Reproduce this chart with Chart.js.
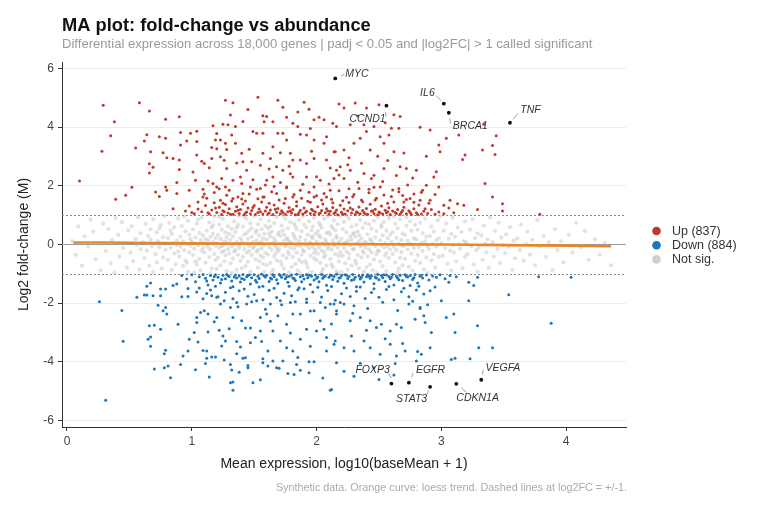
<!DOCTYPE html>
<html><head><meta charset="utf-8">
<script src="https://cdn.jsdelivr.net/npm/chart.js@4.4.1/dist/chart.umd.min.js"></script>
<style>html,body{margin:0;padding:0;background:#fff}#wrap{width:760px;height:506px;position:relative}</style>
</head><body><div id="wrap"><canvas id="c" width="760" height="506"></canvas></div>
<script>
const xTicks=[0,1,2,3,4];
const yTicks=[-6,-4,-2,0,2,4,6];
const legendLabels=['Up (837)','Down (884)','Not sig.'];
const titleText='MA plot: fold-change vs abundance';
const subtitleText='Differential expression across 18,000 genes | padj < 0.05 and |log2FC| > 1 called significant';
const captionText='Synthetic data. Orange curve: loess trend. Dashed lines at log2FC = +/-1.';
const xTitle='Mean expression, log10(baseMean + 1)';
const yTitle='Log2 fold-change (M)';

const upXY=[0.10,2.16,0.29,4.75,0.58,4.83,0.38,4.18,0.35,3.71,0.28,3.18,0.39,1.54,0.47,1.68,0.52,1.95,0.66,4.55,0.55,3.29,0.64,3.74,0.62,3.53,0.67,3.16,0.66,2.75,0.66,2.44,0.69,2.63,0.71,1.79,0.74,1.64,0.79,4.27,0.74,3.67,0.79,3.62,0.77,3.13,0.80,2.96,0.79,1.96,0.80,1.85,0.90,4.35,0.91,3.82,0.91,3.39,0.85,2.93,0.90,2.88,0.90,2.56,0.88,2.11,0.88,1.74,0.85,1.22,
1.27,4.92,1.33,4.83,1.31,4.41,1.25,4.10,1.29,4.08,1.53,5.02,1.41,4.19,1.17,4.05,1.04,3.86,0.99,3.79,1.04,3.51,0.96,3.53,1.04,3.05,1.08,2.84,1.10,2.76,1.01,2.47,1.03,2.19,0.98,1.85,1.09,1.88,1.13,2.16,1.17,2.08,1.20,3.78,1.19,3.56,1.23,3.56,1.16,3.31,1.20,3.26,1.23,2.99,1.16,2.93,1.28,3.24,1.27,3.45,1.35,3.45,1.32,3.73,1.36,2.78,1.28,2.59,1.24,2.25,1.20,1.96,1.27,1.96,1.33,2.19,1.39,2.30,1.41,2.82,1.40,3.11,1.44,2.53,1.40,2.08,1.48,2.82,1.49,3.85,1.52,3.79,1.57,3.79,1.57,4.39,1.60,4.36,1.58,4.18,1.69,4.92,1.73,4.68,1.76,4.34,1.65,4.18,1.90,4.85,1.94,4.61,2.02,4.34,2.06,4.25,1.98,4.25,1.81,4.13,1.85,4.02,1.87,3.76,1.92,3.73,1.69,3.79,1.73,3.79,1.76,3.56,1.65,3.33,1.71,3.13,1.79,3.11,1.57,3.11,1.63,2.93,1.55,2.70,1.68,2.65,1.73,2.53,1.81,2.88,1.87,2.88,1.92,2.76,1.98,2.93,2.08,2.88,2.06,3.45,2.08,3.67,1.98,3.56,2.14,3.16,2.16,2.53,2.03,2.19,1.92,2.30,1.81,2.30,1.76,1.96,1.65,2.30,1.60,2.19,1.55,1.91,1.47,1.96,1.87,1.85,1.98,1.96,2.11,1.85,1.68,1.74,1.57,1.62,1.41,1.74,1.33,1.57,1.23,1.51,1.09,1.62,1.81,1.62,1.98,1.62,2.08,1.62,
2.18,4.79,2.22,4.65,2.31,4.82,2.40,4.65,2.50,4.76,2.13,4.13,2.16,4.02,2.27,4.08,2.38,4.08,2.40,3.85,2.46,4.02,2.62,4.42,2.67,4.36,2.60,3.96,2.66,3.96,2.51,3.67,2.35,3.62,2.30,3.45,2.22,3.22,2.15,3.16,2.43,3.22,2.54,3.45,2.58,3.73,2.62,3.16,2.83,4.00,2.91,3.90,2.98,3.39,2.99,3.16,3.04,3.62,3.14,3.73,2.88,3.01,3.17,2.90,3.19,3.05,3.33,3.22,3.34,4.10,3.44,3.71,3.41,3.37,3.43,3.07,2.96,2.48,2.94,2.30,2.80,2.53,2.72,2.59,2.67,2.65,2.54,2.59,2.46,2.36,2.38,2.42,2.27,2.53,2.19,2.65,2.14,2.25,2.22,2.25,2.44,2.25,2.34,1.91,2.51,1.96,2.66,1.91,2.88,2.02,2.98,1.96,3.35,2.08,3.41,1.62,3.49,1.39,3.49,1.14,3.29,1.19,3.18,1.34,3.13,1.39,3.07,1.51,3.02,1.34,2.91,1.51,2.83,1.51,2.75,1.57,2.70,1.45,3.79,1.03,
1.02,1.05,1.05,1.21,1.08,1.12,1.11,1.33,1.14,1.04,1.16,1.18,1.18,1.42,1.20,1.09,1.22,1.27,1.24,1.02,1.25,1.15,1.27,1.36,1.29,1.07,1.30,1.22,1.32,1.48,1.33,1.03,1.35,1.13,1.36,1.29,1.38,1.06,1.39,1.19,1.41,1.38,1.42,1.01,1.44,1.11,1.45,1.24,1.47,1.05,1.48,1.16,1.50,1.33,1.51,1.02,1.53,1.09,1.54,1.21,1.56,1.45,1.57,1.04,1.59,1.14,1.60,1.27,1.62,1.07,1.63,1.18,1.65,1.02,1.66,1.35,1.68,1.10,1.69,1.23,1.71,1.05,1.72,1.15,1.74,1.41,1.75,1.03,1.77,1.12,1.78,1.26,1.80,1.07,1.81,1.19,1.83,1.01,1.84,1.31,1.86,1.09,1.87,1.17,1.89,1.04,1.90,1.24,1.92,1.13,1.93,1.47,1.95,1.06,1.96,1.20,1.98,1.02,1.99,1.11,2.01,1.29,2.02,1.05,2.04,1.16,2.05,1.38,2.07,1.08,2.08,1.22,2.10,1.03,2.11,1.13,2.13,1.26,2.14,1.06,2.16,1.18,2.17,1.01,2.19,1.34,2.20,1.10,2.22,1.21,2.23,1.04,2.25,1.15,2.26,1.43,2.28,1.07,2.29,1.19,2.31,1.02,2.32,1.12,2.34,1.28,2.35,1.05,2.37,1.16,2.38,1.09,2.40,1.23,2.41,1.03,2.43,1.37,2.44,1.13,2.46,1.06,2.47,1.20,2.49,1.01,2.50,1.11,2.52,1.31,2.53,1.04,2.55,1.17,2.56,1.08,2.58,1.25,2.59,1.02,2.61,1.14,2.62,1.45,2.64,1.06,2.65,1.19,2.67,1.03,2.68,1.10,2.70,1.27,2.72,1.05,2.74,1.15,2.76,1.02,2.78,1.22,2.80,1.08,2.82,1.35,2.84,1.04,2.86,1.13,2.89,1.06,2.92,1.19,2.95,1.03,2.98,1.11,3.02,1.05,3.06,1.24,3.10,1.08,0.95,1.14,0.98,1.31,1.00,1.09,
1.13,1.08,1.19,1.24,1.26,1.12,1.31,1.03,1.37,1.17,1.43,1.07,1.49,1.26,1.55,1.12,1.61,1.04,1.67,1.20,1.73,1.09,1.79,1.14,1.85,1.02,1.91,1.09,1.97,1.16,2.03,1.07,2.09,1.14,2.15,1.10,2.21,1.03,2.27,1.24,2.33,1.08,2.39,1.04,2.45,1.15,2.51,1.07,2.57,1.12,2.63,1.09,2.69,1.16,2.75,1.09,2.81,1.02,2.87,1.22,1.40,1.55,1.58,1.62,1.70,1.52,1.88,1.58,2.00,1.66,2.12,1.54,2.24,1.61,2.36,1.52,2.48,1.58,2.60,1.64,2.72,1.53,1.28,1.68,1.46,1.72,1.64,1.80,1.82,1.70,1.94,1.78,2.06,1.74,2.18,1.83,2.30,1.70,2.42,1.76,2.54,1.69,2.66,1.80,2.78,1.72,1.10,1.72,1.22,1.90,1.52,1.88,1.76,1.93,2.26,1.90,2.46,1.95,2.85,1.85,
1.05,1.45,1.12,1.58,1.18,1.77,1.25,1.41,1.30,1.85,1.37,1.62,1.43,1.48,1.49,2.21,1.53,1.56,1.59,2.03,1.62,1.41,1.66,1.98,1.71,2.11,1.75,1.57,1.79,2.41,1.84,1.46,1.89,2.05,1.95,1.44,2.00,2.31,2.04,1.52,2.10,2.06,2.13,1.42,2.18,2.37,2.21,1.49,2.25,2.72,2.29,1.63,2.33,2.12,2.37,1.46,2.42,1.88,2.47,1.52,2.53,2.15,2.57,1.41,2.61,1.86,2.64,2.35,2.69,1.67,2.73,2.03,2.78,1.44,2.84,1.78,2.90,1.41,2.95,1.70,1.14,2.62,1.26,2.87,1.46,3.25,1.62,2.57,1.78,2.67,1.96,3.18,2.11,2.61,2.26,2.96,2.36,2.77,2.49,3.01,2.57,2.86,2.70,3.12,2.77,2.27,1.35,4.02,1.85,4.52,2.33,4.38,1.45,4.60,1.95,3.95,2.55,4.15];

const downXY=[0.26,-1.95,0.44,-2.25,0.45,-3.30,0.31,-5.31,0.56,-1.80,0.62,-1.72,0.64,-1.72,0.69,-1.75,0.75,-1.75,0.64,-1.42,0.67,-1.31,0.75,-1.52,0.79,-1.52,0.73,-2.07,0.79,-2.15,0.80,-2.37,0.77,-2.26,0.66,-2.77,0.70,-2.75,0.75,-2.89,0.65,-3.23,0.67,-3.15,0.67,-3.47,0.79,-3.60,0.78,-3.72,0.70,-4.24,0.78,-4.20,0.83,-4.54,0.81,-4.14,0.89,-2.72,0.85,-1.40,0.88,-1.35,0.92,-1.78,0.97,-1.77,0.91,-4.09,0.93,-3.80,0.97,-3.63,0.98,-3.23,1.02,-3.00,1.04,-2.66,1.04,-2.49,1.07,-2.32,1.10,-2.26,1.13,-2.37,1.13,-2.98,1.05,-3.32,1.09,-3.61,1.12,-3.63,1.12,-3.88,1.03,-4.27,1.14,-4.52,1.11,-4.06,1.19,-3.83,1.16,-3.83,1.24,-3.46,1.27,-3.29,1.25,-3.12,1.22,-2.92,1.20,-2.49,1.23,-2.03,1.20,-1.80,1.16,-1.75,1.26,-3.94,1.31,-4.09,1.32,-4.28,1.31,-4.71,1.33,-4.69,1.33,-4.97,1.36,-3.31,1.36,-3.72,1.39,-3.49,1.41,-3.88,1.43,-3.86,1.45,-4.12,1.45,-4.20,1.49,-4.71,1.55,-4.61,1.51,-3.17,1.47,-2.85,1.43,-2.85,1.40,-2.60,1.33,-2.49,1.31,-2.15,1.36,-1.98,1.44,-2.03,1.52,-1.92,1.55,-2.95,1.56,-3.31,1.57,-3.89,1.57,-4.03,1.61,-3.63,1.61,-4.14,1.65,-3.97,1.68,-4.20,1.70,-4.22,1.73,-3.97,1.77,-4.40,1.82,-4.43,1.84,-4.09,1.87,-4.29,1.94,-4.00,1.98,-4.00,1.94,-4.37,2.11,-4.97,2.08,-3.63,2.16,-4.03,1.65,-2.95,1.71,-3.29,1.76,-3.52,1.81,-3.63,1.87,-3.23,1.92,-2.89,2.00,-2.95,2.06,-2.89,2.08,-3.17,2.14,-3.40,2.03,-2.60,1.98,-2.26,1.87,-2.37,1.81,-2.37,1.76,-2.72,1.69,-2.43,1.60,-2.37,1.55,-2.49,1.63,-2.03,1.71,-1.92,1.79,-1.98,1.92,-1.98,2.03,-1.98,2.11,-2.03,2.16,-2.26,
2.14,-2.03,2.22,-2.03,2.30,-2.09,2.16,-2.37,2.27,-2.60,2.35,-2.49,2.43,-2.60,2.48,-2.83,2.52,-2.72,2.59,-2.95,2.64,-2.72,2.68,-2.83,2.15,-3.29,2.22,-3.52,2.30,-3.63,2.38,-3.29,2.43,-3.52,2.51,-3.74,2.59,-3.40,2.64,-3.80,2.71,-3.63,2.81,-3.65,2.84,-3.74,2.91,-3.52,2.92,-3.00,2.87,-2.66,2.86,-2.43,2.83,-2.15,2.74,-2.03,3.00,-1.92,3.04,-2.49,3.10,-2.37,3.11,-3.00,3.08,-3.92,3.11,-3.88,3.23,-3.89,3.29,-2.77,3.30,-3.52,3.41,-3.52,3.54,-1.71,3.88,-2.68,2.22,-4.32,2.30,-4.49,2.50,-4.60,2.46,-4.20,2.12,-4.94,2.63,-4.06,2.80,-3.97,3.26,-1.40,3.22,-1.29,3.29,-1.12,3.78,-1.10,3.06,-1.29,2.91,-1.58,2.86,-1.69,2.75,-1.40,4.04,-1.12,3.22,-1.92,2.83,-2.18,
0.92,-1.06,0.96,-1.18,1.00,-1.03,1.03,-1.27,1.06,-1.10,1.09,-1.02,1.11,-1.15,1.13,-1.38,1.15,-1.06,1.17,-1.21,1.19,-1.03,1.21,-1.12,1.23,-1.31,1.25,-1.05,1.27,-1.17,1.28,-1.02,1.30,-1.09,1.32,-1.24,1.33,-1.44,1.35,-1.04,1.36,-1.14,1.38,-1.07,1.39,-1.28,1.41,-1.02,1.42,-1.19,1.44,-1.10,1.45,-1.05,1.47,-1.35,1.48,-1.13,1.50,-1.03,1.51,-1.22,1.53,-1.08,1.54,-1.16,1.56,-1.01,1.57,-1.42,1.59,-1.11,1.60,-1.05,1.62,-1.26,1.63,-1.14,1.65,-1.03,1.66,-1.09,1.68,-1.20,1.69,-1.33,1.71,-1.06,1.72,-1.12,1.74,-1.02,1.75,-1.17,1.77,-1.29,1.78,-1.08,1.80,-1.04,1.81,-1.14,1.83,-1.23,1.84,-1.01,1.86,-1.47,1.87,-1.10,1.89,-1.06,1.90,-1.18,1.92,-1.03,1.93,-1.13,1.95,-1.36,1.96,-1.08,1.98,-1.21,1.99,-1.04,2.01,-1.11,2.02,-1.27,2.04,-1.02,2.05,-1.15,2.07,-1.07,2.08,-1.39,2.10,-1.12,2.11,-1.04,2.13,-1.19,2.14,-1.09,2.16,-1.01,2.17,-1.25,2.19,-1.13,2.20,-1.06,2.22,-1.32,2.23,-1.03,2.25,-1.16,2.26,-1.09,2.28,-1.22,2.29,-1.02,2.31,-1.12,2.32,-1.44,2.34,-1.07,2.35,-1.18,2.37,-1.04,2.38,-1.28,2.40,-1.10,2.41,-1.03,2.43,-1.15,2.44,-1.07,2.46,-1.34,2.47,-1.11,2.49,-1.02,2.50,-1.20,2.52,-1.06,2.53,-1.13,2.55,-1.26,2.56,-1.04,2.58,-1.09,2.59,-1.17,2.61,-1.02,2.62,-1.38,2.64,-1.08,2.65,-1.14,2.67,-1.05,2.69,-1.23,2.71,-1.03,2.73,-1.11,2.75,-1.06,2.77,-1.19,2.79,-1.02,2.81,-1.31,2.83,-1.08,2.85,-1.14,2.88,-1.04,2.90,-1.21,2.93,-1.07,2.96,-1.12,2.99,-1.03,3.03,-1.17,3.07,-1.06,3.12,-1.10,
1.12,-1.24,1.18,-1.09,1.24,-1.19,1.29,-1.06,1.34,-1.11,1.40,-1.16,1.46,-1.04,1.52,-1.29,1.58,-1.07,1.64,-1.18,1.70,-1.02,1.76,-1.10,1.82,-1.16,1.88,-1.27,1.94,-1.05,2.00,-1.15,2.06,-1.09,2.12,-1.06,2.18,-1.14,2.24,-1.05,2.30,-1.19,2.36,-1.12,2.42,-1.08,2.48,-1.14,2.54,-1.03,2.60,-1.12,2.66,-1.20,2.72,-1.09,2.78,-1.13,2.84,-1.05,1.15,-1.55,1.27,-1.63,1.38,-1.58,1.50,-1.70,1.62,-1.56,1.74,-1.66,1.85,-1.54,1.97,-1.62,2.09,-1.57,2.20,-1.68,2.32,-1.59,2.44,-1.64,2.56,-1.53,2.68,-1.61,2.80,-1.55,1.21,-1.78,1.33,-1.85,1.45,-1.76,1.57,-1.88,1.68,-1.81,1.80,-1.75,1.92,-1.86,2.04,-1.79,2.15,-1.90,2.27,-1.77,2.39,-1.84,2.50,-1.80,2.62,-1.88,2.74,-1.78,1.04,-1.62,1.09,-1.85,0.97,-1.50,
1.06,-1.48,1.12,-1.67,1.19,-1.42,1.26,-1.92,1.31,-1.47,1.37,-2.12,1.42,-1.52,1.48,-1.95,1.54,-1.45,1.59,-2.21,1.66,-1.49,1.72,-2.05,1.78,-1.42,1.83,-1.95,1.90,-1.51,1.95,-2.27,2.01,-1.46,2.07,-2.15,2.12,-1.43,2.19,-1.98,2.24,-1.48,2.29,-2.34,2.35,-1.45,2.41,-2.18,2.46,-1.51,2.53,-1.97,2.58,-1.43,2.65,-2.25,2.70,-1.49,2.77,-1.93,2.82,-1.42,2.89,-2.05,2.95,-1.45,1.18,-2.63,1.30,-2.87,1.47,-3.35,1.63,-2.62,1.79,-3.02,1.95,-3.47,2.12,-2.71,2.28,-3.12,2.40,-2.92,2.55,-3.21,2.69,-3.37,2.79,-2.55,1.38,-4.35,1.85,-3.85,2.35,-4.05,2.05,-4.55,2.62,-4.45];

const nsXY=[0.04,0.12,0.07,-0.35,0.09,0.61,0.12,-0.72,0.14,0.28,0.17,-0.08,0.19,0.85,0.21,0.44,0.23,-0.51,0.25,0.02,0.27,-0.88,0.29,0.71,0.31,-0.22,0.33,0.53,0.35,-0.64,0.36,0.15,0.38,-0.95,0.39,0.90,0.41,0.33,0.42,-0.41,0.44,0.76,0.45,-0.12,0.47,0.05,0.48,-0.79,0.49,0.48,0.51,-0.28,0.52,0.62,0.53,-0.57,0.55,0.19,0.56,-0.02,0.57,0.93,0.58,-0.85,0.59,0.38,0.59,-0.16,0.61,0.08,0.62,-0.46,0.63,0.71,0.64,-0.21,0.65,0.29,0.66,-0.73,0.67,0.52,0.68,-0.05,0.69,0.86,0.69,-0.94,0.67,0.17,0.71,-0.33,0.72,0.41,0.72,-0.61,0.73,0.12,0.74,-0.09,0.75,0.66,0.76,-0.82,0.77,0.25,0.77,-0.44,0.78,0.97,0.79,0.03,0.79,-0.18,0.74,0.55,0.81,0.21,0.81,-0.52,0.82,0.74,0.83,-0.11,0.84,0.36,0.84,-0.87,0.85,0.04,0.86,-0.31,0.86,0.59,0.87,-0.67,0.88,0.14,0.88,-0.02,0.89,0.89,0.89,-0.24,0.83,0.47,
0.90,-0.41,0.91,0.27,0.91,-0.08,0.92,0.63,0.93,-0.73,0.93,0.11,0.94,-0.19,0.95,0.45,0.95,-0.55,0.96,0.02,0.97,0.81,0.97,-0.93,0.98,0.33,0.98,-0.27,0.99,0.18,0.99,-0.04,0.94,0.95,0.96,-0.62,1.00,0.09,1.01,-0.36,1.01,0.52,1.02,-0.14,1.03,0.24,1.04,-0.68,1.04,0.71,1.05,-0.03,1.06,0.39,1.06,-0.49,1.07,0.15,1.07,-0.88,1.08,0.92,1.08,-0.21,1.09,0.06,1.09,0.31,1.03,-0.58,1.05,0.85,1.02,-0.96,1.09,-0.11,1.10,-0.27,1.11,0.18,1.11,-0.62,1.12,0.47,1.12,0.01,1.13,-0.09,1.14,0.75,1.14,-0.43,1.15,0.26,1.15,-0.17,1.16,0.58,1.16,-0.81,1.17,0.08,1.17,0.37,1.18,-0.32,1.18,0.96,1.19,-0.04,1.19,-0.53,1.13,0.13,1.15,-0.98,1.17,0.66,1.19,0.22,
1.20,0.04,1.21,-0.45,1.21,0.32,1.22,-0.12,1.22,0.68,1.23,-0.71,1.23,0.19,1.24,-0.26,1.24,0.51,1.25,-0.02,1.25,0.87,1.26,-0.58,1.26,0.11,1.27,-0.37,1.27,0.41,1.28,-0.91,1.28,0.24,1.29,-0.16,1.29,0.62,1.20,-0.83,1.22,0.95,1.24,-0.06,1.26,-0.21,1.28,0.07,1.30,-0.31,1.31,0.16,1.31,-0.64,1.32,0.53,1.32,-0.07,1.33,0.28,1.33,-0.48,1.34,0.79,1.34,0.02,1.35,-0.19,1.35,0.43,1.36,-0.86,1.36,0.09,1.37,-0.35,1.37,0.67,1.38,-0.11,1.38,0.97,1.39,-0.55,1.39,0.21,1.30,0.36,1.32,-0.97,1.34,-0.24,1.36,0.58,1.38,-0.02,
1.40,0.12,1.41,-0.42,1.41,0.61,1.42,-0.15,1.42,0.33,1.43,-0.74,1.43,0.04,1.44,0.88,1.44,-0.28,1.45,0.19,1.45,-0.59,1.46,0.47,1.46,-0.05,1.47,0.72,1.47,-0.93,1.48,0.26,1.48,-0.36,1.49,0.08,1.49,-0.12,1.40,-0.81,1.42,0.95,1.44,0.39,1.46,-0.22,1.48,0.55,1.50,-0.08,1.51,0.41,1.51,-0.51,1.52,0.14,1.52,-0.25,1.53,0.69,1.53,-0.79,1.54,0.03,1.54,0.31,1.55,-0.38,1.55,0.86,1.56,-0.13,1.56,0.52,1.57,-0.66,1.57,0.21,1.58,-0.02,1.58,-0.94,1.59,0.63,1.59,-0.29,1.50,0.97,1.52,0.48,1.54,-0.57,1.56,0.09,1.58,0.37,1.53,-0.19,1.57,-0.44,
1.60,0.17,1.61,-0.34,1.61,0.56,1.62,-0.09,1.62,0.81,1.63,-0.63,1.63,0.27,1.64,-0.18,1.64,0.44,1.65,-0.87,1.65,0.06,1.66,0.73,1.66,-0.41,1.67,0.12,1.67,-0.04,1.68,0.93,1.68,-0.54,1.69,0.34,1.69,-0.23,1.60,-0.71,1.62,0.38,1.64,-0.97,1.66,0.21,1.68,-0.13,1.63,0.61,1.67,-0.31,1.70,-0.16,1.71,0.29,1.71,-0.58,1.72,0.64,1.72,0.02,1.73,-0.37,1.73,0.47,1.74,-0.82,1.74,0.13,1.75,-0.07,1.75,0.88,1.76,-0.46,1.76,0.23,1.77,0.55,1.77,-0.25,1.78,-0.95,1.78,0.09,1.79,0.76,1.79,-0.11,1.70,0.41,1.72,-0.69,1.74,0.33,1.76,-0.01,1.78,-0.33,1.73,0.98,1.77,0.18,
1.80,0.06,1.81,-0.42,1.81,0.37,1.82,-0.14,1.82,0.71,1.83,-0.67,1.83,0.19,1.84,-0.28,1.84,0.52,1.85,-0.89,1.85,0.01,1.86,0.84,1.86,-0.52,1.87,0.26,1.87,-0.06,1.88,0.45,1.88,-0.35,1.89,0.96,1.89,-0.19,1.80,-0.76,1.82,0.28,1.84,-0.03,1.86,0.12,1.88,-0.61,1.83,0.62,1.87,-0.98,1.90,-0.24,1.91,0.15,1.91,-0.57,1.92,0.58,1.92,-0.03,1.93,0.33,1.93,-0.78,1.94,0.79,1.94,-0.13,1.95,0.07,1.95,-0.39,1.96,0.49,1.96,-0.93,1.97,0.22,1.97,-0.08,1.98,0.91,1.98,-0.47,1.99,0.36,1.99,-0.18,1.90,0.68,1.92,-0.66,1.94,0.02,1.96,0.27,1.98,-0.29,1.93,-0.99,1.97,0.61,
2.00,0.11,2.01,-0.31,2.01,0.45,2.02,-0.09,2.02,0.74,2.03,-0.62,2.03,0.24,2.04,-0.21,2.04,0.57,2.05,-0.84,2.05,0.04,2.06,0.87,2.06,-0.44,2.07,0.17,2.07,-0.02,2.08,0.39,2.08,-0.72,2.09,0.95,2.09,-0.15,2.00,-0.53,2.02,0.31,2.04,-0.96,2.06,-0.26,2.08,0.08,2.03,0.66,2.07,-0.37,2.10,-0.06,2.11,0.34,2.11,-0.49,2.12,0.63,2.12,-0.17,2.13,0.14,2.13,-0.77,2.14,0.82,2.14,0.01,2.15,-0.33,2.15,0.48,2.16,-0.91,2.16,0.23,2.17,-0.11,2.17,0.69,2.18,-0.58,2.18,0.09,2.19,0.97,2.19,-0.27,2.10,0.42,2.12,-0.68,2.14,-0.04,2.16,0.29,2.18,-0.39,2.13,0.56,2.17,-0.99,
2.20,0.19,2.21,-0.38,2.21,0.52,2.22,-0.12,2.22,0.77,2.23,-0.64,2.23,0.06,2.24,-0.24,2.24,0.41,2.25,-0.86,2.25,0.13,2.26,0.89,2.26,-0.47,2.27,0.27,2.27,-0.03,2.28,0.61,2.28,-0.71,2.29,-0.17,2.29,0.36,2.20,-0.94,2.22,0.02,2.24,0.98,2.26,-0.31,2.28,0.16,2.30,-0.14,2.31,0.26,2.31,-0.55,2.32,0.67,2.32,0.03,2.33,-0.36,2.33,0.44,2.34,-0.81,2.34,0.11,2.35,-0.07,2.35,0.84,2.36,-0.44,2.36,0.21,2.37,0.57,2.37,-0.23,2.38,-0.92,2.38,0.07,2.39,0.73,2.39,-0.09,2.30,0.39,2.32,-0.66,2.34,0.31,2.36,-0.01,2.38,-0.29,
2.40,0.08,2.41,-0.41,2.41,0.35,2.42,-0.16,2.42,0.69,2.43,-0.69,2.43,0.18,2.44,-0.27,2.44,0.54,2.45,-0.87,2.45,0.02,2.46,0.81,2.46,-0.51,2.47,0.24,2.47,-0.05,2.48,0.46,2.48,-0.33,2.49,0.94,2.49,-0.21,2.40,-0.77,2.44,0.12,2.48,-0.97,2.50,-0.22,2.51,0.14,2.51,-0.58,2.52,0.59,2.52,-0.02,2.53,0.31,2.53,-0.74,2.54,0.77,2.54,-0.11,2.55,0.05,2.55,-0.38,2.56,0.47,2.56,-0.91,2.57,0.21,2.57,-0.07,2.58,0.88,2.58,-0.46,2.59,0.34,2.59,-0.17,2.52,0.66,2.56,-0.29,2.58,0.98,
2.60,0.09,2.61,-0.33,2.61,0.42,2.62,-0.08,2.63,0.71,2.63,-0.61,2.64,0.22,2.64,-0.19,2.65,0.55,2.66,-0.82,2.66,0.03,2.67,0.86,2.67,-0.45,2.68,0.16,2.68,-0.03,2.69,0.37,2.69,-0.71,2.62,0.96,2.65,-0.95,2.68,-0.26,2.70,-0.05,2.71,0.32,2.71,-0.48,2.72,0.64,2.73,-0.17,2.73,0.13,2.74,-0.76,2.75,0.79,2.75,0.02,2.76,-0.31,2.76,0.47,2.77,-0.89,2.78,0.21,2.78,-0.12,2.79,0.67,2.79,-0.56,2.72,0.93,2.77,-0.01,
2.80,0.17,2.81,-0.36,2.81,0.51,2.82,-0.09,2.83,0.74,2.83,-0.63,2.84,0.06,2.85,-0.22,2.85,0.39,2.86,-0.85,2.87,0.11,2.87,0.88,2.88,-0.44,2.88,0.27,2.89,-0.04,2.89,-0.97,2.90,-0.15,2.91,0.29,2.92,-0.54,2.92,0.61,2.93,0.02,2.94,-0.33,2.94,0.44,2.95,-0.78,2.96,0.14,2.96,-0.07,2.97,0.83,2.98,-0.42,2.98,0.21,2.99,0.97,
3.00,0.05,3.01,-0.38,3.02,0.47,3.03,-0.12,3.04,0.72,3.05,-0.66,3.06,0.19,3.07,-0.21,3.08,0.36,3.08,-0.89,3.09,-0.02,3.09,0.91,3.10,-0.27,3.11,0.26,3.12,-0.58,3.13,0.58,3.14,0.01,3.15,-0.14,3.16,0.43,3.17,-0.81,3.18,0.12,3.19,0.79,3.19,-0.41,3.20,0.07,3.21,-0.33,3.23,0.51,3.24,-0.06,3.25,0.86,3.26,-0.68,3.27,0.22,3.28,-0.19,3.29,0.38,3.29,-0.93,3.30,-0.11,3.32,0.31,3.33,-0.52,3.34,0.64,3.35,0.03,3.36,-0.27,3.37,0.17,3.38,-0.79,3.39,0.92,
3.41,0.08,3.42,-0.41,3.43,0.46,3.45,-0.15,3.46,0.74,3.47,-0.63,3.48,0.24,3.49,-0.02,3.51,-0.29,3.52,0.35,3.54,-0.08,3.55,0.59,3.57,-0.86,3.58,0.13,3.59,-0.47,3.61,0.21,3.63,-0.18,3.64,0.68,3.66,-0.55,3.68,0.02,3.69,0.44,3.71,-0.34,3.73,0.16,3.75,-0.71,3.77,0.83,3.79,-0.06,3.82,0.29,3.84,-0.42,3.86,0.07,3.89,-0.88,3.91,0.52,3.93,-0.19,3.96,0.11,3.98,-0.61,4.02,0.33,4.05,-0.27,4.08,0.74,4.12,-0.09,4.15,0.46,4.18,-0.52,4.23,0.18,4.27,-0.35,4.31,0.05,4.36,-0.71];

const loessX=[0.05,0.5,1.0,1.5,2.0,2.5,3.0,3.5,4.0,4.36];
const loessY=[0.07,0.06,0.04,0.03,0.02,0.01,0.00,-0.02,-0.04,-0.06];

const geneNames=['MYC','CCND1','IL6','BRCA1','TNF','FOXP3','EGFR','STAT3','CDKN1A','VEGFA'];
const geneX=[2.15,2.56,3.02,3.06,3.55,2.60,2.74,2.91,3.12,3.32];
const geneY=[5.66,4.73,4.80,4.49,4.15,-4.74,-4.71,-4.85,-4.75,-4.61];

// label placement (pixel offsets from the point): text dx, dy(middle), leader start, leader end
const labelStyle={
 MYC:[10,-4.6,5.7,-2.3,9,-4.3], CCND1:[-37,13.3,-1,6,-0.3,11], IL6:[-23.7,-10.4,-7.7,-8,-2.7,-3],
 BRCA1:[4,13.3,0.7,5.6,1.7,10.6], TNF:[10.4,-12.4,3,-3.4,8,-9.4], FOXP3:[-36,-13.5,-2.7,-10.3,0,-5.7],
 EGFR:[7,-12.8,2.7,-5.6,4.3,-9.6], STAT3:[-34,12.7,-3.4,7.7,-1.4,3.7], CDKN1A:[0,14.7,5,4,10,8.4],
 VEGFA:[4.3,-11.3,1,-5.3,2,-10]
};

const F='"Liberation Sans", Arial, Helvetica, sans-serif';
const RED='#c0392b', BLUE='#1b77b8', GREY='#cfcfcf', ORANGE='#e8862a';

function pairs(a){const r=[];for(let i=0;i+1<a.length;i+=2)r.push({x:a[i],y:a[i+1]});return r;}

const deco={
 id:'deco',
 beforeDatasetsDraw(chart){
  const {ctx,chartArea:a,scales:{y}}=chart;
  ctx.save();
  ctx.lineWidth=1;ctx.strokeStyle='#8a8a8a';ctx.setLineDash([2,2]);
  [1,-1].forEach(v=>{const py=Math.round(y.getPixelForValue(v))+0.5;ctx.beginPath();ctx.moveTo(a.left,py);ctx.lineTo(a.right,py);ctx.stroke();});
  ctx.setLineDash([]);ctx.strokeStyle='#9a9a9a';ctx.lineWidth=1.2;
  const p0=y.getPixelForValue(0);ctx.beginPath();ctx.moveTo(a.left,p0);ctx.lineTo(a.right,p0);ctx.stroke();
  ctx.restore();
 },
 afterDraw(chart){
  const {ctx,chartArea:a,scales:{x,y}}=chart;
  ctx.save();
  ctx.textBaseline='alphabetic';ctx.textAlign='left';
  ctx.fillStyle='#111';ctx.font='bold 18.3px '+F;ctx.fillText(titleText,62,31);
  ctx.fillStyle='#9a9a9a';ctx.font='13.1px '+F;ctx.fillText(subtitleText,62,48);
  ctx.textAlign='right';ctx.fillStyle='#aaaaaa';ctx.font='10.8px '+F;ctx.fillText(captionText,627,491);
  ctx.textAlign='center';ctx.textBaseline='middle';ctx.fillStyle='#222';ctx.font='14px '+F;
  ctx.fillText(xTitle,(a.left+a.right)/2,464);
  ctx.save();ctx.translate(24,(a.top+a.bottom)/2);ctx.rotate(-Math.PI/2);ctx.fillText(yTitle,0,0);ctx.restore();
  const cols=[RED,BLUE,GREY];
  ctx.textAlign='left';ctx.font='12.5px '+F;
  legendLabels.forEach((t,i)=>{const cy=231+i*14.2;ctx.fillStyle=cols[i];ctx.beginPath();ctx.arc(656.5,cy,4.3,0,Math.PI*2);ctx.fill();ctx.fillStyle='#333';ctx.fillText(t,672,cy+0.5);});
  ctx.font='italic 10.5px '+F;ctx.textBaseline='middle';ctx.textAlign='left';
  geneNames.forEach((g,i)=>{
   const px=x.getPixelForValue(geneX[i]),py=y.getPixelForValue(geneY[i]);const s=labelStyle[g];
   ctx.strokeStyle='#888';ctx.lineWidth=0.8;ctx.beginPath();ctx.moveTo(px+s[2],py+s[3]);ctx.lineTo(px+s[4],py+s[5]);ctx.stroke();
   ctx.fillStyle='#333';ctx.fillText(g,px+s[0],py+s[1]);
  });
  ctx.restore();
 }
};

new Chart(document.getElementById('c'),{
 type:'scatter',
 data:{datasets:[
  {label:'genes',data:geneX.map((v,i)=>({x:v,y:geneY[i]})),backgroundColor:'#111',borderWidth:0,pointRadius:1.9,order:0},
  {label:'loess',type:'line',data:loessX.map((v,i)=>({x:v,y:loessY[i]})),borderColor:ORANGE,borderWidth:2.6,pointRadius:0,tension:0.4,fill:false,order:1},
  {label:legendLabels[0],data:pairs(upXY),backgroundColor:RED,borderWidth:0,pointRadius:1.5,order:2},
  {label:legendLabels[1],data:pairs(downXY),backgroundColor:BLUE,borderWidth:0,pointRadius:1.5,order:2},
  {label:legendLabels[2],data:pairs(nsXY),backgroundColor:'rgba(185,185,185,0.42)',borderWidth:0,pointRadius:2.1,order:3}
 ]},
 options:{
  responsive:false,animation:false,
  layout:{padding:{top:62,right:134,left:0,bottom:0}},
  plugins:{legend:{display:false},tooltip:{enabled:false},title:{display:false}},
  scales:{
   x:{type:'linear',min:-0.04,max:4.48,
    afterBuildTicks:s=>{s.ticks=xTicks.map(v=>({value:v}));},
    afterFit:s=>{s.height=79;},
    grid:{display:true,drawOnChartArea:false,tickLength:4,tickColor:'#333',color:'#333'},
    border:{display:true,color:'#333',width:1},
    ticks:{font:{size:12,family:F},color:'#444',padding:3,maxRotation:0}},
   y:{type:'linear',min:-6.22,max:6.22,
    afterBuildTicks:s=>{s.ticks=yTicks.map(v=>({value:v}));},
    afterFit:s=>{s.width=62;},
    grid:{color:'#ececec',tickLength:4,tickColor:'#333'},
    border:{display:true,color:'#333',width:1},
    ticks:{font:{size:12,family:F},color:'#444',padding:4}}
  }
 },
 plugins:[deco]
});
</script></body></html>
